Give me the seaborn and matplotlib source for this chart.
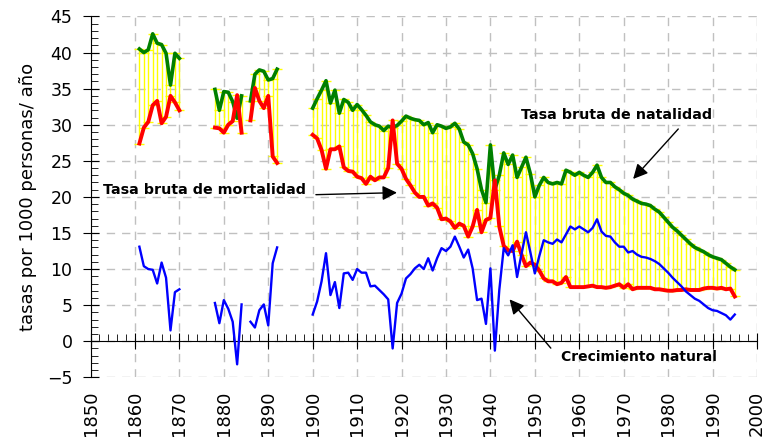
import pandas as pd
import matplotlib
matplotlib.use('Agg')
import matplotlib.pyplot as plt
from matplotlib.ticker import MultipleLocator
import seaborn as sns

# tramos con datos (hay huecos entre ellos)
anios_1 = list(range(1861, 1871))
natalidad_1 = [40.5, 40.0, 40.4, 42.6, 41.3, 41.1, 39.9, 35.5, 39.9, 39.2]
mortalidad_1 = [27.4, 29.6, 30.4, 32.7, 33.3, 30.2, 31.1, 34.0, 33.1, 32.0]
crecimiento_1 = [13.1, 10.4, 10.0, 9.9, 8.0, 10.9, 8.8, 1.5, 6.8, 7.2]

anios_2 = list(range(1878, 1885))
natalidad_2 = [34.9, 32.0, 34.6, 34.5, 33.2, 30.9, 34.0]
mortalidad_2 = [29.6, 29.5, 28.9, 30.0, 30.5, 34.1, 28.9]
crecimiento_2 = [5.3, 2.5, 5.7, 4.5, 2.7, -3.2, 5.1]

anios_3 = list(range(1886, 1893))
natalidad_3 = [33.3, 37.0, 37.6, 37.4, 36.2, 36.4, 37.7]
mortalidad_3 = [30.6, 35.1, 33.3, 32.3, 34.0, 25.6, 24.7]
crecimiento_3 = [2.7, 1.9, 4.3, 5.1, 2.2, 10.8, 13.0]

anios_4 = list(range(1900, 1996))
natalidad_4 = [32.3, 33.6, 34.8, 36.1, 33.0, 34.8, 31.6, 33.5, 33.1, 32.0,
               32.8, 32.1, 31.3, 30.4, 30.0, 29.8, 29.2, 29.8, 29.6, 29.9,
               30.5, 31.2, 30.9, 30.7, 30.6, 30.0, 30.3, 28.9, 30.0, 29.8,
               29.5, 29.7, 30.2, 29.4, 27.6, 27.2, 26.0, 23.9, 21.0, 19.2,
               27.2, 21.0, 23.0, 26.1, 24.5, 25.8, 22.7, 24.1, 25.5, 23.2,
               20.0, 21.6, 22.7, 22.0, 21.8, 22.0, 21.8, 23.7, 23.4, 23.0,
               23.4, 23.0, 22.7, 23.4, 24.4, 22.7, 22.0, 22.0, 21.4, 21.0,
               20.5, 20.2, 19.7, 19.4, 19.1, 19.0, 18.8, 18.3, 17.9, 17.2,
               16.5, 15.8, 15.3, 14.7, 14.1, 13.5, 13.0, 12.7, 12.4, 12.0,
               11.7, 11.5, 11.3, 10.8, 10.3, 9.9]
mortalidad_4 = [28.6, 28.1, 26.5, 23.9, 26.6, 26.6, 27.0, 24.1, 23.6, 23.5,
                22.8, 22.6, 21.8, 22.8, 22.3, 22.7, 22.7, 24.0, 30.6, 24.6,
                23.9, 22.5, 21.6, 20.6, 20.0, 20.0, 18.8, 19.1, 18.5, 16.9,
                17.0, 16.6, 15.7, 16.3, 16.0, 14.5, 15.9, 18.2, 15.1, 16.8,
                17.1, 22.3, 15.9, 13.2, 12.6, 12.5, 13.8, 12.0, 10.4, 10.9,
                10.6, 9.8, 8.7, 8.3, 8.3, 7.9, 8.1, 8.9, 7.5, 7.5,
                7.5, 7.5, 7.6, 7.7, 7.5, 7.5, 7.4, 7.5, 7.7, 7.9,
                7.4, 7.9, 7.2, 7.4, 7.4, 7.4, 7.4, 7.2, 7.2, 7.1,
                7.0, 7.0, 7.1, 7.1, 7.2, 7.1, 7.1, 7.1, 7.3, 7.4,
                7.4, 7.3, 7.4, 7.2, 7.3, 6.2]
crecimiento_4 = [3.7, 5.5, 8.3, 12.2, 6.4, 8.2, 4.6, 9.4, 9.5, 8.5,
                 10.0, 9.5, 9.5, 7.6, 7.7, 7.1, 6.5, 5.8, -1.0, 5.3,
                 6.6, 8.7, 9.3, 10.1, 10.6, 10.0, 11.5, 9.8, 11.5, 12.9,
                 12.5, 13.1, 14.5, 13.1, 11.6, 12.7, 10.1, 5.7, 5.9, 2.4,
                 10.1, -1.3, 7.1, 12.9, 11.9, 13.3, 8.9, 12.1, 15.1, 12.3,
                 9.4, 11.8, 14.0, 13.7, 13.5, 14.1, 13.7, 14.8, 15.9, 15.5,
                 15.9, 15.5, 15.1, 15.7, 16.9, 15.2, 14.6, 14.5, 13.7, 13.1,
                 13.1, 12.3, 12.5, 12.0, 11.7, 11.6, 11.4, 11.1, 10.7, 10.1,
                 9.5, 8.8, 8.2, 7.6, 6.9, 6.4, 5.9, 5.6, 5.1, 4.6,
                 4.3, 4.2, 3.9, 3.6, 3.0, 3.7]

tramos = [
    (anios_1, natalidad_1, mortalidad_1, crecimiento_1),
    (anios_2, natalidad_2, mortalidad_2, crecimiento_2),
    (anios_3, natalidad_3, mortalidad_3, crecimiento_3),
    (anios_4, natalidad_4, mortalidad_4, crecimiento_4),
]
frames = []
for i, (a, n, m, c) in enumerate(tramos):
    frames.append(pd.DataFrame({'anio': a, 'natalidad': n, 'mortalidad': m,
                                'crecimiento': c, 'tramo': i}))
df = pd.concat(frames, ignore_index=True)

fig = plt.figure(figsize=(7.69, 4.41), dpi=100)
ax = fig.add_axes([0.1177, 0.1444, 0.8667, 0.8182])

# barras amarillas entre natalidad y mortalidad
ax.vlines(df['anio'], df['mortalidad'], df['natalidad'], color='#ffff00', lw=1, zorder=2)
ax.plot(df['anio'], df['mortalidad'], ls='none', marker='_', ms=7, color='#ffff00', zorder=2)
ax.plot(df['anio'], df['natalidad'], ls='none', marker='_', ms=7, color='#ffff00', zorder=2)

sns.lineplot(data=df, x='anio', y='natalidad', units='tramo', estimator=None,
             color='#008000', lw=2.6, ax=ax, legend=False, zorder=3)
sns.lineplot(data=df, x='anio', y='mortalidad', units='tramo', estimator=None,
             color='#ff0000', lw=2.8, ax=ax, legend=False, zorder=4)
sns.lineplot(data=df, x='anio', y='crecimiento', units='tramo', estimator=None,
             color='#0000ff', lw=1.7, ax=ax, legend=False, zorder=5)

ax.set_xlim(1850, 2000)
ax.set_ylim(-5, 45)
ax.set_xticks(range(1850, 2001, 10))
ax.set_yticks(range(-5, 46, 5))
ax.xaxis.set_minor_locator(MultipleLocator(2))
ax.yaxis.set_minor_locator(MultipleLocator(1))
ax.grid(True, which='major', color='#c0c0c0', linestyle=(0, (6, 5)), lw=1)
ax.set_axisbelow(True)

for s in ['top', 'right']:
    ax.spines[s].set_visible(False)
ax.spines['bottom'].set_position(('data', 0))
ax.spines['bottom'].set_zorder(1)

ax.tick_params(axis='x', which='major', direction='inout', length=11, pad=30,
               labelsize=13, labelrotation=90)
ax.tick_params(axis='x', which='minor', direction='in', length=5)
ax.tick_params(axis='y', which='major', direction='inout', length=12, pad=7,
               labelsize=12.5)
ax.tick_params(axis='y', which='minor', direction='in', length=5)

ax.set_xlabel('')
ax.set_ylabel('tasas por 1000 personas/ año', fontsize=13, labelpad=7)

# rótulos y flechas
ax.text(1946.8, 31.4, 'Tasa bruta de natalidad', fontsize=10.3, fontweight='bold',
        ha='left', va='center')
ax.annotate('', xy=(1971.7, 22.2), xytext=(1982.7, 29.7),
            arrowprops=dict(arrowstyle='-|>', color='black', lw=1, mutation_scale=22))

ax.text(1852.9, 21.0, 'Tasa bruta de mortalidad', fontsize=10.3, fontweight='bold',
        ha='left', va='center')
ax.annotate('', xy=(1919.6, 20.6), xytext=(1900.1, 20.3),
            arrowprops=dict(arrowstyle='-|>', color='black', lw=1, mutation_scale=22))

ax.text(1955.8, -2.2, 'Crecimiento natural', fontsize=10, fontweight='bold',
        ha='left', va='center')
ax.annotate('', xy=(1943.9, 6.1), xytext=(1954.0, -1.25),
            arrowprops=dict(arrowstyle='-|>', color='black', lw=1, mutation_scale=22))

plt.savefig('out.png', dpi=100)
